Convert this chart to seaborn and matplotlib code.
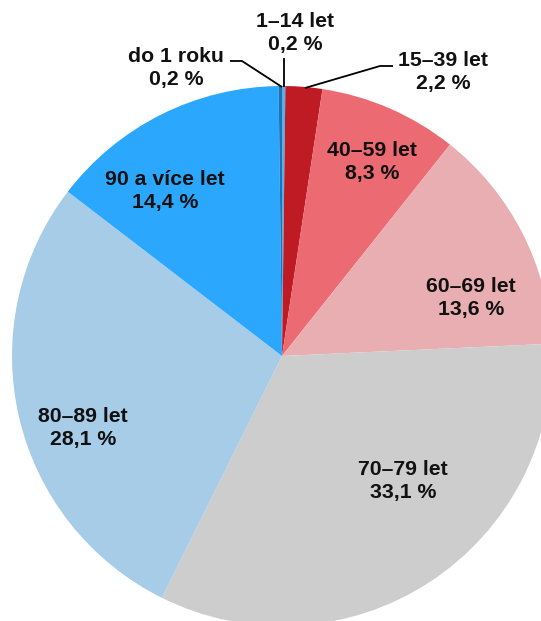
import matplotlib
matplotlib.use("Agg")
import matplotlib.pyplot as plt
import seaborn as sns

sns.set_theme(style="white")
plt.rcParams['font.family'] = ['Liberation Sans', 'DejaVu Sans']

# Data (clockwise from top)
categories = ["1–14 let", "15–39 let", "40–59 let", "60–69 let",
              "70–79 let", "80–89 let", "90 a více let", "do 1 roku"]
shares = [0.2, 2.2, 8.3, 13.6, 33.1, 28.1, 14.4, 0.2]
share_labels = ["0,2 %", "2,2 %", "8,3 %", "13,6 %", "33,1 %", "28,1 %", "14,4 %", "0,2 %"]
colors = ["#58b0e6", "#bf1b25", "#ec6b73", "#e8aeb1",
          "#cdcdcd", "#a6cce8", "#2ba8fd", "#1b72b6"]

# Layout (pixel-based, radius 270 px, centre at 282,356)
W, H = 541, 621
R = 270.0
CX, CY = 282.0, 356.0

def d(px, py):
    return ((px - CX) / R, (CY - py) / R)

label_pos = [d(295, 33), d(443, 72), d(372, 162), d(471, 298),
             d(403, 481), d(83, 428), d(165, 191), d(176, 68)]

leaders = {
    0: [d(284, 58), d(284, 87)],
    1: [d(393, 66), d(380, 66), d(305, 88)],
    7: [d(230, 61), d(242, 61), d(282, 87)],
}

fig = plt.figure(figsize=(W / 100, H / 100), dpi=100)
ax = fig.add_axes([0, 0, 1, 1])
ax.pie(shares, colors=colors, startangle=90, counterclock=False,
       radius=1.0, center=(0, 0), wedgeprops=dict(linewidth=0))
ax.set_xlim(-CX / R, (W - CX) / R)
ax.set_ylim(-(H - CY) / R, CY / R)
ax.set_aspect('auto')
ax.axis('off')

for i, (cat, lab) in enumerate(zip(categories, share_labels)):
    x, y = label_pos[i]
    ax.text(x, y, f"{cat}\n{lab}", ha="center", va="center", ma="center",
            fontsize=15.3, fontweight="bold", color="#111111", linespacing=1.22)

for i, pts in leaders.items():
    xs = [p[0] for p in pts]
    ys = [p[1] for p in pts]
    ax.plot(xs, ys, color="black", lw=1.3, solid_capstyle="butt")

fig.savefig("out.png", dpi=100)
